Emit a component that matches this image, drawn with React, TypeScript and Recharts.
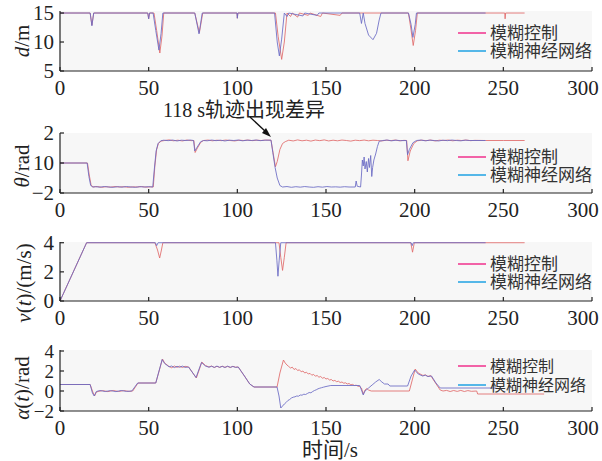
import { CartesianGrid, Line, LineChart, XAxis, YAxis } from 'recharts';

type Pt = [number, number];

const SERIF = '"Liberation Serif", "Noto Sans CJK SC", serif';
const CJK = '"Liberation Serif", "Noto Sans CJK SC", sans-serif';

const timeTicks = [0, 50, 100, 150, 200, 250, 300];
const seriesNames = ['模糊控制', '模糊神经网络'];
const legendColors = ['#f0308c', '#1fa2e3'];
const lineColors = ['#e06a6a', '#6a6ac4'];

// d / m
const distFuzzy: Pt[] = [
  [0, 15], [17, 15], [18, 12.9], [19, 15], [49.5, 15], [50, 14], [50.5, 15], [53, 15], [54.5, 12],
  [56.3, 8.1], [57.5, 11], [58.5, 15], [76, 15], [78.6, 11.6], [80.5, 15], [99.8, 15], [100, 14.1],
  [100.3, 15], [121.5, 15], [123, 11], [125, 7], [126.5, 10], [128, 15], [130, 14.4], [131, 15],
  [134, 14.3], [135, 15], [140, 14.6], [141, 15], [147, 14.4], [148, 15], [158, 14.6], [159, 15],
  [196.5, 15], [198, 12], [199.2, 9.4], [200.5, 12], [201.5, 15], [250.8, 15], [251, 14],
  [251.3, 15], [262, 15],
];
const distNeural: Pt[] = [
  [0, 15], [17, 15], [18, 12.8], [19, 15], [49.5, 15], [50, 14], [50.5, 15], [52.5, 15], [54, 12],
  [55.8, 8.6], [57, 11.5], [58, 15], [76, 15], [78.4, 11.4], [80.2, 15], [99.8, 15], [100, 14.1],
  [100.3, 15], [121, 15], [122.5, 10], [123.7, 7.6], [125, 10.5], [126.5, 15], [128, 14.4], [129, 15],
  [137, 14.5], [138, 15], [145, 14.6], [146, 15], [169, 15], [170, 13.2], [171, 15], [172, 13.2],
  [174, 11.2], [176.5, 10.4], [178.5, 11.5], [180, 13.8], [181, 15], [196.5, 15], [198, 13],
  [199, 10.8], [200.3, 13], [201, 15], [240, 15],
];

// θ / rad
const headFuzzy: Pt[] = [
  [0, 0], [15.5, 0], [16.5, -0.8], [17.5, -1.45], [18.5, -1.6], [21, -1.57], [23.5, -1.62],
  [26, -1.58], [28.5, -1.61], [31, -1.57], [33.5, -1.6], [36, -1.58], [38.5, -1.62], [41, -1.59],
  [43.5, -1.6], [46, -1.57], [48.5, -1.61], [51, -1.59], [52.6, -1.6], [53.5, -0.2], [54.5, 0.9],
  [55.5, 1.3], [57, 1.46], [59, 1.5], [61.5, 1.54], [64, 1.48], [66.5, 1.52], [69, 1.47],
  [71.5, 1.53], [74, 1.49], [75.5, 1.5], [76.2, 0.7], [77.5, 1.0], [79.5, 1.4], [81, 1.5],
  [83.5, 1.53], [86, 1.48], [88.5, 1.52], [91, 1.49], [93.5, 1.53], [96, 1.5], [98.5, 1.47],
  [101, 1.52], [103.5, 1.5], [106, 1.53], [108.5, 1.49], [111, 1.52], [113.5, 1.5], [116, 1.53],
  [119, 1.52], [120, 0.8], [121.5, -0.25], [122.5, 0.1], [124, 0.9], [125.5, 1.3], [127, 1.42],
  [129, 1.52], [131.5, 1.47], [134, 1.54], [136.5, 1.48], [139, 1.52], [141.5, 1.46], [144, 1.53],
  [146.5, 1.49], [149, 1.54], [151.5, 1.47], [154, 1.52], [156.5, 1.48], [159, 1.53], [161.5, 1.5],
  [164, 1.46], [166.5, 1.52], [169, 1.49], [171.5, 1.53], [174, 1.48], [176.5, 1.52], [179, 1.5],
  [181.5, 1.47], [184, 1.52], [186.5, 1.49], [189, 1.53], [191.5, 1.48], [194, 1.51], [195.5, 1.5],
  [196.2, 0.15], [197.5, 0.8], [199.5, 1.3], [201.5, 1.48], [204, 1.52], [206.5, 1.49], [209, 1.53],
  [211.5, 1.47], [214, 1.52], [216.5, 1.5], [219, 1.53], [221.5, 1.48], [224, 1.52], [226.5, 1.5],
  [229, 1.53], [231.5, 1.49], [234, 1.51], [240, 1.5], [250, 1.5], [262, 1.5],
];
const headNeural: Pt[] = [
  [0, 0], [15.3, 0], [16.3, -0.9], [17.3, -1.5], [18.5, -1.6], [20, -1.58], [22.5, -1.61],
  [25, -1.57], [27.5, -1.6], [30, -1.62], [32.5, -1.58], [35, -1.61], [37.5, -1.57], [40, -1.6],
  [42.5, -1.62], [45, -1.58], [47.5, -1.6], [50, -1.58], [52.3, -1.6], [53.2, -0.4], [54.2, 0.8],
  [55.3, 1.3], [56.8, 1.48], [58.5, 1.52], [61, 1.49], [63.5, 1.53], [66, 1.47], [68.5, 1.52],
  [71, 1.5], [73.5, 1.53], [75.3, 1.5], [76, 0.8], [77.3, 1.05], [79.3, 1.42], [81, 1.5],
  [83, 1.48], [85.5, 1.53], [88, 1.49], [90.5, 1.52], [93, 1.47], [95.5, 1.52], [98, 1.5],
  [100.5, 1.53], [103, 1.48], [105.5, 1.52], [108, 1.5], [110.5, 1.53], [113, 1.49], [115.5, 1.52],
  [119, 1.52], [120, 0.7], [121.3, -0.3], [122.5, -1.0], [124, -1.5], [125.5, -1.6], [128, -1.57],
  [130.5, -1.62], [133, -1.58], [135.5, -1.61], [138, -1.57], [140.5, -1.6], [143, -1.62],
  [145.5, -1.58], [148, -1.61], [150.5, -1.57], [153, -1.6], [155.5, -1.59], [158, -1.61],
  [160.5, -1.58], [163, -1.6], [166.5, -1.6], [167, -1.2], [167.6, -1.55], [169.5, -1.6],
  [170, -0.8], [170.5, 0.2], [171, -0.2], [171.5, 0.4], [172, -0.4], [172.7, 0.1], [173.3, -0.6],
  [174, 0.3], [174.5, -0.3], [175.2, 0.5], [175.8, -0.9], [176.3, -0.3], [177, 0.2], [178, 0.6],
  [179, 1.1], [180, 1.45], [182, 1.5], [184.5, 1.53], [187, 1.48], [189.5, 1.52], [192, 1.49],
  [195.3, 1.5], [196, 0.55], [197, 0.9], [199, 1.35], [201, 1.5], [203.5, 1.53], [206, 1.48],
  [208.5, 1.52], [211, 1.5], [213.5, 1.47], [216, 1.52], [218.5, 1.49], [221, 1.53], [223.5, 1.5],
  [226, 1.48], [228.5, 1.52], [231, 1.5], [240, 1.5],
];

// v(t) / (m/s)
const speedFuzzy: Pt[] = [
  [0, 0], [15, 4], [53.5, 4], [55, 3.5], [56.2, 2.95], [57.2, 3.5], [58, 4], [123.5, 4],
  [124.5, 3], [125.5, 2.1], [126.5, 3], [127.5, 4], [197.8, 4], [198.8, 3.35], [199.8, 4], [262, 4],
];
const speedNeural: Pt[] = [
  [0, 0], [15, 4], [53.8, 4], [54.5, 3.8], [55.3, 4], [121.5, 4], [122.3, 2.8], [122.9, 1.7],
  [123.6, 2.8], [124.5, 4], [198, 4], [198.6, 3.8], [199.2, 4], [240, 4],
];

// α(t) / rad
const steerFuzzy: Pt[] = [
  [0, 0.65], [17, 0.65], [18.5, -0.1], [19.5, -0.5], [20.5, -0.1], [21.5, -0.05], [24, 0.04],
  [27, -0.06], [30, 0.05], [33, -0.05], [36, 0.04], [39, -0.04], [41, 0], [44, 0.8], [54, 0.8],
  [57.8, 3.2], [59, 2.8], [61.5, 2.45], [63, 2.32], [64.5, 2.5], [66, 2.36], [67.5, 2.48],
  [69, 2.35], [70.5, 2.47], [72.5, 2.4], [76.9, 1.3], [80, 2.9], [82, 2.55], [84, 2.4], [85.5, 2.5],
  [87, 2.35], [88.5, 2.47], [90, 2.36], [91.5, 2.48], [93, 2.37], [94.5, 2.46], [96, 2.35],
  [97.5, 2.47], [99, 2.38], [100.5, 2.4], [104, 1.5], [107, 0.7], [109.4, 0.4], [122.4, 0.4],
  [124, 1.8], [126, 3.1], [127, 2.8], [128, 2.6], [129, 2.45], [130, 2.3], [131, 2.38], [132, 2.15],
  [133, 2.25], [134, 2.05], [135, 2.12], [136, 1.92], [137, 2.0], [138, 1.8], [139, 1.88], [140, 1.7],
  [141, 1.76], [142, 1.58], [143, 1.66], [144, 1.48], [145, 1.55], [146, 1.38], [147, 1.45],
  [148, 1.28], [149, 1.35], [150, 1.2], [151, 1.25], [152, 1.1], [153, 1.15], [154, 1.0],
  [155, 1.06], [156, 0.93], [157, 0.98], [158, 0.85], [159, 0.9], [160, 0.78], [161, 0.82],
  [162, 0.7], [163, 0.75], [164, 0.62], [165, 0.66], [166, 0.55], [167, 0.58], [168, 0.48],
  [169, 0.45], [170, 0.3], [171, -0.3], [172, 0.1], [173, 0.25], [174, 0.1], [175.5, 0], [197, 0],
  [200.3, 2.2], [202, 1.8], [204.7, 1.55], [206, 1.62], [207.5, 1.45], [209, 1.55], [211, 1.0],
  [214.4, 0.1], [216, 0], [218, 0.06], [220, -0.05], [222, 0.05], [224, -0.04], [226, 0.06],
  [228, -0.05], [230, 0.04], [232, -0.03], [235, 0], [235.5, -0.3], [273, -0.3],
];
const steerNeural: Pt[] = [
  [0, 0.65], [17, 0.65], [18.3, -0.2], [19.3, -0.5], [20.5, -0.05], [22.5, 0.05], [25.5, -0.05],
  [28.5, 0.04], [31.5, -0.06], [34.5, 0.05], [37.5, -0.04], [40.5, 0], [43.8, 0.8], [54, 0.8],
  [57.6, 3.15], [59, 2.75], [61.5, 2.42], [63, 2.5], [64.5, 2.34], [66, 2.47], [67.5, 2.37],
  [69, 2.49], [70.5, 2.36], [72.5, 2.4], [76.7, 1.35], [79.8, 2.85], [82, 2.5], [84, 2.38],
  [85.5, 2.47], [87, 2.36], [88.5, 2.49], [90, 2.37], [91.5, 2.46], [93, 2.35], [94.5, 2.48],
  [96, 2.37], [97.5, 2.45], [99, 2.36], [100.5, 2.4], [104, 1.5], [107, 0.7], [109.4, 0.4],
  [122.4, 0.4], [123.5, -0.5], [124.5, -1.7], [125.5, -1.5], [126.5, -1.3], [127.5, -1.15],
  [128.5, -0.95], [129.5, -0.85], [130.5, -0.7], [131.5, -0.62], [132.5, -0.58], [133.5, -0.5],
  [134.5, -0.52], [135.5, -0.4], [136.5, -0.42], [137.5, -0.32], [138.5, -0.35], [139.5, -0.25],
  [140.5, -0.15], [141.5, -0.18], [142.5, -0.05], [143.5, 0.05], [144.5, 0.12], [145.5, 0.22],
  [146.5, 0.28], [147.5, 0.33], [148.5, 0.38], [150, 0.45], [152.7, 0.55], [169, 0.55], [170, 0.1],
  [171, -0.4], [172, 0], [174, 0.3], [176, 0.6], [178, 0.9], [180, 1.15], [181.5, 0.9], [183, 0.7],
  [185, 0.7], [186, 0.5], [196, 0.5], [198, 1.5], [200, 2.1], [202, 1.7], [204.5, 1.5], [206, 1.58],
  [207.5, 1.45], [209.5, 1.5], [212, 0.8], [214.4, 0.3], [246, 0.3],
];

const toRows = (pts: Pt[]) => pts.map(([t, v]) => ({ t, v }));
const fmtMinus = (v: number) => (v < 0 ? `−${Math.abs(v)}` : String(v));

function TimeTick(props: any) {
  const { x, y, payload } = props;
  const dx = payload.value === 300 ? -9 : 0;
  return (
    <text x={x + dx} y={y} dy="0.71em" textAnchor="middle" fill="#222" fontSize={21} fontFamily={SERIF}>
      {payload.value}
    </text>
  );
}

type PanelProps = {
  top: number;
  plotHeight: number;
  domain: [number, number];
  ticks: number[];
  fuzzy: Pt[];
  neural: Pt[];
  fmt?: (v: number) => string;
  tickFont?: number;
};

function Panel({ top, plotHeight, domain, ticks, fuzzy, neural, fmt, tickFont = 21 }: PanelProps) {
  const series = [fuzzy, neural];
  return (
    <div style={{ position: 'absolute', left: 0, top: top - 16 }}>
      <LineChart width={602} height={plotHeight + 46} margin={{ top: 16, right: 10, left: 0, bottom: 0 }}>
        <CartesianGrid fill="#f7f7f7" stroke="none" horizontal={false} vertical={false} />
        <XAxis
          dataKey="t"
          type="number"
          domain={[0, 300]}
          ticks={timeTicks}
          interval={0}
          height={30}
          tickSize={-4}
          tickMargin={13}
          stroke="#222"
          strokeWidth={1.2}
          tick={<TimeTick />}
        />
        <XAxis
          xAxisId="top"
          orientation="top"
          dataKey="t"
          type="number"
          domain={[0, 300]}
          ticks={timeTicks}
          interval={0}
          height={0}
          tickSize={-4}
          tick={false}
          stroke="#222"
          strokeWidth={1.2}
        />
        <YAxis
          type="number"
          domain={domain}
          ticks={ticks}
          interval={0}
          width={60}
          tickSize={-4}
          tickMargin={10}
          stroke="#222"
          strokeWidth={1.2}
          tickFormatter={fmt ?? fmtMinus}
          tick={{ fill: '#222', fontSize: tickFont, fontFamily: SERIF }}
        />
        <YAxis
          yAxisId="right"
          orientation="right"
          type="number"
          domain={domain}
          ticks={ticks}
          interval={0}
          width={0}
          tickSize={-4}
          tick={false}
          stroke="#222"
          strokeWidth={1.2}
        />
        {series.map((pts, i) => (
          <Line
            key={seriesNames[i]}
            data={toRows(pts)}
            dataKey="v"
            name={seriesNames[i]}
            stroke={lineColors[i]}
            strokeOpacity={0.85}
            strokeWidth={1}
            dot={false}
            type="linear"
            isAnimationActive={false}
          />
        ))}
      </LineChart>
    </div>
  );
}

const legendRows = [
  [33, 51],
  [157, 175],
  [264, 282],
  [366, 385],
];

export default function App() {
  return (
    <div style={{ position: 'absolute', left: 0, top: 0, width: 602, height: 461, background: '#fff' }}>
      <Panel top={11} plotHeight={60} domain={[5, 15.35]} ticks={[5, 10, 15]} fuzzy={distFuzzy} neural={distNeural} />
      <Panel
        top={133}
        plotHeight={60}
        domain={[-2, 2]}
        ticks={[-2, 0, 2]}
        fuzzy={headFuzzy}
        neural={headNeural}
        fmt={(v) => (v === 0 ? '10' : fmtMinus(v))}
      />
      <Panel top={242} plotHeight={59} domain={[0, 4.05]} ticks={[0, 2, 4]} fuzzy={speedFuzzy} neural={speedNeural} />
      <Panel
        top={350}
        plotHeight={61}
        domain={[-2, 4.1]}
        ticks={[-2, 0, 2, 4]}
        fuzzy={steerFuzzy}
        neural={steerNeural}
        tickFont={19}
      />

      <svg width={602} height={461} style={{ position: 'absolute', left: 0, top: 0, pointerEvents: 'none' }}>
        {legendRows.map((rows, p) =>
          rows.map((y, i) => (
            <g key={`${p}-${i}`}>
              <line x1={458} x2={486} y1={y} y2={y} stroke={legendColors[i]} strokeWidth={1.5} />
              <text x={490} y={y} dominantBaseline="central" fontSize={p === 3 ? 16 : 17} fill="#333" fontFamily={CJK}>
                {seriesNames[i]}
              </text>
            </g>
          ))
        )}

        <g fontFamily={SERIF} fontSize={21} fill="#222" textAnchor="middle" dominantBaseline="central">
          <text x={22} y={41} transform="rotate(-90 22 41)">
            <tspan fontStyle="italic">d</tspan>/m
          </text>
          <text x={22} y={166} transform="rotate(-90 22 166)">
            <tspan fontStyle="italic">θ</tspan>/rad
          </text>
          <text x={24} y={283} transform="rotate(-90 24 283)">
            <tspan fontStyle="italic">v</tspan>(<tspan fontStyle="italic">t</tspan>)/(m/s)
          </text>
          <text x={22} y={388} transform="rotate(-90 22 388)">
            <tspan fontStyle="italic">α</tspan>(<tspan fontStyle="italic">t</tspan>)/rad
          </text>
          <text x={330} y={450} fontFamily={CJK}>
            时间/s
          </text>
        </g>

        <text x={163} y={110} dominantBaseline="central" fontSize={20} fill="#222" fontFamily={CJK}>
          118 s轨迹出现差异
        </text>
        <line x1={250} x2={266} y1={117} y2={132} stroke="#111" strokeWidth={1.3} />
        <polygon points="271,137 262,133 266,128" fill="#111" />
      </svg>
    </div>
  );
}
